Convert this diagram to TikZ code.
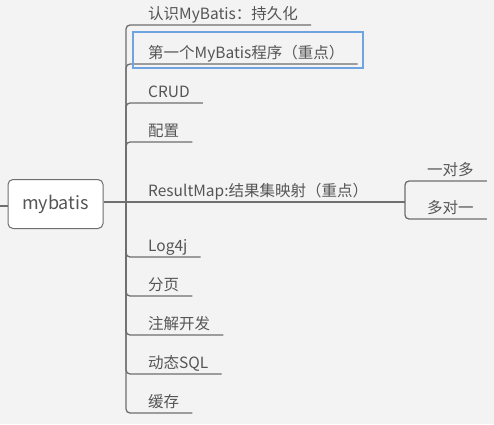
\documentclass[tikz,border=0pt]{standalone}
\usepackage{fontspec}
\setmainfont{Noto Sans CJK SC}
\usepackage{xcolor}
\usepackage{tikz}
\definecolor{mapbg}{RGB}{243, 243, 243}
\definecolor{linegray}{RGB}{110, 110, 110}
\definecolor{textgray}{RGB}{85, 85, 85}
\definecolor{selectblue}{RGB}{110, 165, 225}

\tikzset{
  topic/.style={anchor=south west, inner xsep=13pt, inner ysep=3pt, text height=11pt, text depth=2pt, text=textgray, font=\fontsize{15.5}{18}\selectfont},
  branch/.style={draw=linegray, line width=1.3pt, rounded corners=4pt},
}

\begin{document}
\begin{tikzpicture}[x=1pt, y=-1pt]
                % Canvas
                \fill[mapbg] (0,0) rectangle (494,424);
                \useasboundingbox (0,0) rectangle (494,424);

                % Central topic
                \node[draw=linegray, fill=white, rounded corners=5pt, line width=1pt, minimum width=95pt, minimum height=49pt, text=textgray, font=\fontsize{18}{21}\selectfont] (root) at (55.5,204) {mybatis};
                \coordinate (stub) at (0,206);
                \coordinate (hub) at (126,202);
                \draw[branch] (stub) -- (root.west |- stub);
                \draw[branch] (root.east |- hub) -- (hub);

                % Main topics
                \node[topic] (t1) at (135,25) {认识MyBatis：持久化};
                \node[topic] (t2) at (135,64) {第一个MyBatis程序（重点）};
                \node[topic] (t3) at (135,103) {CRUD};
                \node[topic] (t4) at (135,142) {配置};
                \node[topic] (t6) at (135,257) {Log4j};
                \node[topic] (t7) at (135,296) {分页};
                \node[topic] (t8) at (135,335) {注解开发};
                \node[topic] (t9) at (135,374) {动态SQL};
                \node[topic] (t10) at (135,413) {缓存};
                \foreach \n in {t1,t2,t3,t4,t6,t7,t8,t9,t10}
                  \draw[branch] (hub) |- (\n.south east);

                % ResultMap and its subtopics
                \node[topic] (t5) at (135,202) {ResultMap:结果集映射（重点）};
                \coordinate (fork) at (405,202);
                \draw[branch] (hub) -- (fork);
                \node[topic] (s1) at (414,181) {一对多};
                \node[topic] (s2) at (414,219) {多对一};
                \draw[branch] (fork) |- (s1.south east);
                \draw[branch] (fork) |- (s2.south east);

                % Selection frame
                \draw[selectblue, line width=2pt] (133,32) rectangle (363,68);
            \end{tikzpicture}
\end{document}
